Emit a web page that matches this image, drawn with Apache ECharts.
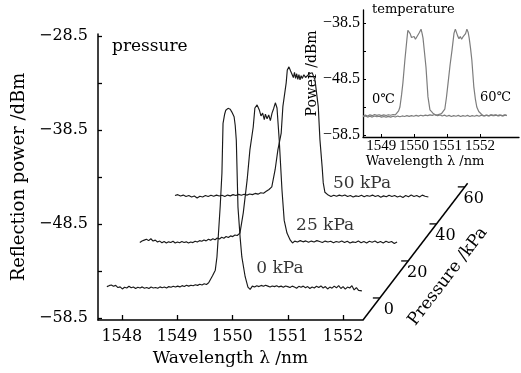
<!DOCTYPE html>
<html>
<head>
<meta charset="utf-8">
<script src="https://cdn.jsdelivr.net/npm/echarts@6/dist/echarts.min.js"></script>
<style>
  html, body { margin: 0; padding: 0; background: #fff; }
  #chart { width: 521px; height: 373px; }
</style>
</head>
<body>
<div id="chart"></div>
<script>
// spectra at each pressure, [wavelength nm, power dBm] before the waterfall shift
const pressures = [0, 25, 50]
const trace0 = [
  [1547.73,-55.15],[1547.77,-55.05],[1547.81,-54.98],[1547.85,-55.12],[1547.89,-55.02],[1547.93,-55.25],[1547.97,-55.18],[1548.01,-55.4],
  [1548.05,-55.22],[1548.09,-55.3],[1548.13,-55.12],[1548.17,-55.28],[1548.21,-55.2],[1548.25,-55.35],[1548.29,-55.22],[1548.33,-55.3],
  [1548.37,-55.18],[1548.41,-55.32],[1548.45,-55.25],[1548.49,-55.36],[1548.53,-55.2],[1548.57,-55.3],[1548.61,-55.24],[1548.65,-55.33],
  [1548.69,-55.18],[1548.73,-55.27],[1548.77,-55.2],[1548.81,-55.3],[1548.85,-55.15],[1548.89,-55.22],[1548.93,-55.12],[1548.97,-55.2],
  [1549.01,-55.1],[1549.05,-55.18],[1549.09,-55.05],[1549.13,-55.14],[1549.17,-55.0],[1549.21,-55.1],[1549.25,-55.0],[1549.29,-55.06],
  [1549.33,-54.95],[1549.37,-55.02],[1549.41,-54.9],[1549.45,-54.98],[1549.49,-54.85],[1549.53,-54.92],[1549.57,-54.75],
  [1549.60,-54.6],[1549.64,-54.0],[1549.69,-53.4],[1549.72,-52.0],[1549.74,-50.2],[1549.78,-46.5],[1549.81,-43.1],[1549.83,-37.8],
  [1549.86,-36.8],[1549.88,-36.4],[1549.92,-36.2],[1549.96,-36.3],[1549.99,-36.6],[1550.03,-37.1],[1550.05,-38.0],[1550.07,-39.6],
  [1550.10,-46.7],[1550.14,-50.0],[1550.17,-52.0],[1550.23,-54.1],[1550.28,-55.2],
  [1550.32,-55.45],[1550.36,-55.1],[1550.40,-55.2],[1550.44,-55.05],[1550.48,-55.15],[1550.52,-55.02],[1550.56,-55.12],[1550.60,-55.0],
  [1550.64,-55.1],[1550.68,-55.2],[1550.72,-55.08],[1550.76,-55.15],[1550.80,-55.05],[1550.84,-55.18],[1550.88,-55.1],[1550.92,-55.22],
  [1550.96,-55.08],[1551.00,-55.15],[1551.04,-55.25],[1551.08,-55.1],[1551.12,-55.2],[1551.16,-55.32],[1551.20,-55.12],[1551.24,-55.22],
  [1551.28,-55.1],[1551.32,-55.28],[1551.36,-55.15],[1551.40,-55.35],[1551.44,-55.2],[1551.48,-55.3],[1551.52,-55.12],[1551.56,-55.25],
  [1551.60,-55.08],[1551.64,-55.3],[1551.68,-55.15],[1551.72,-55.4],[1551.76,-55.2],[1551.80,-55.32],[1551.84,-55.1],[1551.88,-55.28],
  [1551.92,-55.05],[1551.96,-55.35],[1552.00,-55.15],[1552.04,-55.42],[1552.08,-55.2],[1552.12,-55.3],[1552.16,-55.05],[1552.20,-55.5],
  [1552.24,-55.25],[1552.28,-55.55],[1552.31,-55.35],[1552.34,-55.6]
]
const trace25 = [
  [1547.72,-55.25],[1547.76,-55.1],[1547.80,-55.0],[1547.84,-54.9],[1547.88,-55.05],[1547.92,-54.85],[1547.96,-55.1],[1548.00,-55.0],
  [1548.04,-55.2],[1548.08,-55.1],[1548.12,-55.28],[1548.16,-55.15],[1548.20,-55.3],[1548.24,-55.18],[1548.28,-55.25],[1548.32,-55.12],
  [1548.36,-55.3],[1548.40,-55.2],[1548.44,-55.28],[1548.48,-55.15],[1548.52,-55.25],[1548.56,-55.18],[1548.60,-55.3],[1548.64,-55.2],
  [1548.68,-55.26],[1548.72,-55.12],[1548.76,-55.2],[1548.80,-55.05],[1548.84,-55.12],[1548.88,-54.98],[1548.92,-55.08],[1548.96,-54.9],
  [1549.00,-55.0],[1549.04,-54.85],[1549.08,-54.95],[1549.12,-54.78],[1549.16,-54.88],[1549.20,-54.7],[1549.24,-54.8],[1549.28,-54.62],
  [1549.32,-54.72],[1549.36,-54.55],[1549.40,-54.62],[1549.44,-54.45],[1549.48,-54.5],[1549.53,-54.25],
  [1549.59,-52.1],[1549.66,-48.6],[1549.71,-45.4],[1549.77,-42.97],[1549.80,-40.95],[1549.84,-40.63],[1549.88,-41.16],[1549.91,-41.8],
  [1549.94,-41.5],[1549.97,-42.2],[1549.99,-41.6],[1550.02,-42.1],[1550.05,-41.7],[1550.08,-42.3],[1550.11,-41.5],[1550.14,-41.0],
  [1550.17,-40.4],[1550.20,-40.95],[1550.24,-44.35],[1550.29,-49.7],[1550.33,-52.9],[1550.38,-54.25],[1550.44,-55.0],
  [1550.48,-55.3],[1550.52,-55.1],[1550.57,-55.2],[1550.62,-55.05],[1550.67,-55.18],[1550.72,-55.08],[1550.77,-55.22],[1550.82,-55.1],
  [1550.87,-55.2],[1550.92,-55.05],[1550.97,-55.15],[1551.02,-55.25],[1551.07,-55.1],[1551.12,-55.2],[1551.17,-55.12],[1551.22,-55.28],
  [1551.27,-55.15],[1551.32,-55.22],[1551.37,-55.1],[1551.42,-55.25],[1551.47,-55.12],[1551.52,-55.3],[1551.57,-55.18],[1551.62,-55.25],
  [1551.67,-55.1],[1551.72,-55.28],[1551.77,-55.15],[1551.82,-55.3],[1551.87,-55.12],[1551.92,-55.22],[1551.97,-55.1],[1552.02,-55.28],
  [1552.07,-55.15],[1552.12,-55.3],[1552.17,-55.12],[1552.22,-55.25],[1552.27,-55.15],[1552.32,-55.35],[1552.37,-55.2]
]
const trace50 = [
  [1547.75,-55.05],[1547.80,-54.95],[1547.85,-55.1],[1547.90,-55.0],[1547.95,-55.15],[1548.00,-55.05],[1548.05,-55.2],[1548.10,-55.1],
  [1548.15,-55.3],[1548.20,-55.12],[1548.25,-55.2],[1548.30,-55.05],[1548.35,-55.15],[1548.40,-55.02],[1548.45,-55.12],[1548.50,-55.0],
  [1548.55,-55.1],[1548.60,-55.02],[1548.65,-55.15],[1548.70,-55.0],[1548.75,-55.08],[1548.80,-54.95],[1548.85,-55.05],[1548.90,-54.92],
  [1548.95,-55.02],[1549.00,-54.9],[1549.05,-55.0],[1549.10,-54.88],[1549.15,-54.95],[1549.20,-54.82],[1549.25,-54.9],[1549.30,-54.75],
  [1549.35,-54.8],[1549.40,-54.6],[1549.45,-54.4],
  [1549.50,-54.13],[1549.56,-52.3],[1549.61,-50.2],[1549.67,-48.4],[1549.70,-45.6],[1549.76,-43.07],[1549.78,-41.7],[1549.81,-41.37],
  [1549.84,-41.8],[1549.87,-41.9],[1549.89,-42.5],[1549.91,-41.95],[1549.93,-42.6],[1549.95,-42.1],[1549.97,-42.7],[1549.99,-42.2],
  [1550.01,-42.75],[1550.03,-42.3],[1550.05,-42.6],[1550.08,-42.2],[1550.11,-42.5],[1550.14,-42.4],[1550.18,-42.1],[1550.23,-42.0],
  [1550.28,-42.75],[1550.34,-45.6],[1550.37,-49.1],[1550.41,-52.0],[1550.43,-53.7],[1550.46,-54.7],[1550.52,-55.0],
  [1550.57,-55.15],[1550.62,-55.02],[1550.67,-55.12],[1550.72,-55.0],[1550.77,-55.1],[1550.82,-54.98],[1550.87,-55.15],[1550.92,-55.05],
  [1550.97,-55.2],[1551.02,-55.08],[1551.07,-55.15],[1551.12,-55.02],[1551.17,-55.18],[1551.22,-55.05],[1551.27,-55.12],[1551.32,-55.0],
  [1551.37,-55.15],[1551.42,-55.05],[1551.47,-55.22],[1551.52,-55.08],[1551.57,-55.18],[1551.62,-55.02],[1551.67,-55.15],[1551.72,-55.05],
  [1551.77,-55.2],[1551.82,-55.1],[1551.87,-55.25],[1551.92,-55.05],[1551.97,-55.18],[1552.02,-55.0],[1552.07,-55.15],[1552.12,-55.05],
  [1552.17,-55.2],[1552.22,-55.0],[1552.27,-55.12],[1552.33,-55.2]
]
const traces = [trace0, trace25, trace50]

const wlTicks = [1548, 1549, 1550, 1551, 1552]
const powerTicks = [-58.5, -53.5, -48.5, -43.5, -38.5, -33.5, -28.5]
const powerLabels = [-58.5, -48.5, -38.5, -28.5]
const pressureTicks = [0, 20, 40, 60]

// inset: temperature
const inset0C = [
  [1548.45,-55.1],[1548.52,-54.95],[1548.59,-55.1],[1548.66,-54.9],[1548.73,-55.05],[1548.80,-54.85],[1548.87,-55.0],[1548.94,-54.88],
  [1549.01,-55.05],[1549.08,-54.9],[1549.15,-55.02],[1549.22,-54.88],[1549.29,-54.98],[1549.36,-54.85],[1549.43,-54.9],[1549.48,-54.7],
  [1549.53,-54.2],[1549.57,-53.5],[1549.62,-51.3],[1549.66,-49.2],[1549.72,-45.1],[1549.78,-41.5],[1549.81,-39.8],[1549.84,-39.6],
  [1549.88,-40.4],[1549.92,-41.1],[1549.96,-41.3],[1550.0,-40.9],[1550.04,-41.4],[1550.08,-41.0],[1550.12,-41.2],[1550.16,-40.2],
  [1550.21,-39.6],[1550.24,-40.3],[1550.27,-41.2],[1550.31,-43.5],[1550.36,-46.4],[1550.42,-51.7],[1550.48,-54.0],[1550.57,-54.6],
  [1550.64,-54.9],[1550.71,-55.05],[1550.78,-54.9],[1550.85,-55.1],[1550.92,-54.95],[1550.99,-55.15],[1551.06,-55.0],[1551.13,-55.2],
  [1551.20,-55.05],[1551.27,-55.15],[1551.34,-55.0],[1551.41,-55.2],[1551.48,-55.05],[1551.55,-55.15],[1551.62,-55.0],[1551.69,-55.2],
  [1551.76,-55.05],[1551.83,-55.15],[1551.90,-55.0],[1551.97,-55.15],[1552.04,-54.95],[1552.11,-55.1],[1552.18,-54.95],[1552.25,-55.1],
  [1552.32,-54.9],[1552.39,-55.05],[1552.46,-54.9],[1552.53,-55.05],[1552.60,-54.92],[1552.67,-55.08],[1552.74,-54.9],[1552.81,-55.0]
]
const inset60C = [
  [1548.45,-55.25],[1548.52,-55.1],[1548.59,-55.3],[1548.66,-55.15],[1548.73,-55.3],[1548.80,-55.1],[1548.87,-55.25],[1548.94,-55.15],
  [1549.01,-55.3],[1549.08,-55.2],[1549.15,-55.32],[1549.22,-55.18],[1549.29,-55.3],[1549.36,-55.15],[1549.43,-55.28],[1549.50,-55.12],
  [1549.57,-55.25],[1549.64,-55.1],[1549.71,-55.2],[1549.78,-55.05],[1549.85,-55.18],[1549.92,-55.05],[1549.99,-55.15],[1550.06,-55.0],
  [1550.13,-55.12],[1550.20,-54.98],[1550.27,-55.1],[1550.34,-54.95],[1550.41,-55.05],[1550.48,-54.9],[1550.55,-55.0],[1550.62,-54.85],
  [1550.69,-54.95],[1550.76,-54.8],[1550.83,-54.7],[1550.89,-54.4],[1550.93,-53.9],[1550.98,-51.8],[1551.03,-49.2],[1551.09,-46.0],
  [1551.15,-43.3],[1551.21,-40.3],[1551.25,-39.6],[1551.28,-39.7],[1551.32,-40.8],[1551.36,-41.3],[1551.40,-40.9],[1551.44,-41.4],
  [1551.48,-41.0],[1551.52,-41.2],[1551.56,-40.4],[1551.60,-39.6],[1551.64,-40.2],[1551.67,-41.2],[1551.71,-43.0],[1551.75,-45.1],
  [1551.81,-49.9],[1551.86,-52.2],[1551.90,-53.5],[1551.96,-54.3],[1552.0,-54.6],[1552.07,-54.95],[1552.14,-55.1],[1552.21,-54.95],
  [1552.28,-55.1],[1552.35,-54.9],[1552.42,-55.05],[1552.49,-54.95],[1552.56,-55.1],[1552.63,-54.95],[1552.70,-55.1],[1552.77,-54.92],
  [1552.81,-55.05]
]
const insetWlTicks = [1549, 1550, 1551, 1552]
const insetPowerTicks = [-58.5, -53.5, -48.5, -43.5, -38.5]
const insetPowerLabels = [-58.5, -48.5, -38.5]

// axis ranges
const X_MIN = 1547.57, X_MAX = 1552.36
const Y_MIN = -58.7, Y_MAX = -28.3
const MAIN_W = 265, WIDE_W = 421
// waterfall shift per kPa, in axis units
const SHIFT_NM = 0.02423, SHIFT_DB = 0.1915
// oblique pressure axis: per kPa step and where 0 kPa sits on it
const PAX_NM = 0.02559, PAX_DB = 0.1968, PAX_ZERO = 11.9, PAX_END = 62
// where each "x kPa" text goes, before the shift
const labelAt = [[1550.86, -53.2], [1551.07, -53.4], [1551.13, -53.8]]

const serif = '"DejaVu Serif", serif'
const times = '"Liberation Serif", serif'
const plain = v => String(v)
const minus = v => String(v).replace('-', '\u2212')

const chart = echarts.init(document.getElementById('chart'))

// the shifted traces run past the drawn axis, so they live on a wider hidden grid with the same scale
const traceSeries = traces.map((tr, i) => ({
  type: 'line',
  xAxisIndex: 2,
  yAxisIndex: 2,
  data: tr.map(([l, p]) => [l + pressures[i] * SHIFT_NM, p + pressures[i] * SHIFT_DB]),
  symbol: 'none',
  z: 5,
  lineStyle: { color: '#1a1a1a', width: 1.15 },
}))

const insetSeries = [inset0C, inset60C].map(tr => ({
  type: 'line',
  xAxisIndex: 1,
  yAxisIndex: 1,
  data: tr,
  symbol: 'none',
  z: 3,
  lineStyle: { color: '#7d7d7d', width: 1.2 },
}))

chart.setOption({
  animation: false,
  backgroundColor: '#fff',
  grid: [
    { left: 98, top: 34, width: MAIN_W, height: 286, outerBoundsMode: 'none' },
    { left: 363, top: 10, width: 156, height: 127, outerBoundsMode: 'none' },
    { left: 98, top: 34, width: WIDE_W, height: 286, outerBoundsMode: 'none' },
  ],
  xAxis: [
    {
      type: 'value', gridIndex: 0, min: X_MIN, max: X_MAX,
      name: 'Wavelength \u03bb /nm', nameLocation: 'middle', nameGap: 29,
      nameTextStyle: { fontFamily: serif, fontSize: 17, color: '#000' },
      axisLine: { show: true, onZero: false, lineStyle: { color: '#000', width: 1.5 } },
      axisTick: { show: true, inside: true, length: 5, customValues: wlTicks, lineStyle: { color: '#000', width: 1.3 } },
      axisLabel: { customValues: wlTicks, margin: 9, formatter: plain, fontFamily: serif, fontSize: 16, color: '#000' },
      splitLine: { show: false },
    },
    {
      type: 'value', gridIndex: 1, min: 1548.45, max: 1553.18,
      name: 'Wavelength \u03bb /nm', nameLocation: 'middle', nameGap: 15,
      nameTextStyle: { fontFamily: serif, fontSize: 13, color: '#000', padding: [0, 32, 0, 0] },
      axisLine: { show: true, onZero: false, lineStyle: { color: '#000', width: 1.3 } },
      axisTick: { show: true, inside: true, length: 3, customValues: insetWlTicks, lineStyle: { color: '#000' } },
      axisLabel: { customValues: insetWlTicks, margin: 2, formatter: plain, fontFamily: times, fontSize: 15, color: '#000' },
      splitLine: { show: false },
    },
    {
      type: 'value', gridIndex: 2, min: X_MIN, max: X_MIN + (X_MAX - X_MIN) * WIDE_W / MAIN_W, show: false,
    },
  ],
  yAxis: [
    {
      type: 'value', gridIndex: 0, min: Y_MIN, max: Y_MAX,
      name: 'Reflection power /dBm', nameLocation: 'middle', nameGap: 62,
      nameTextStyle: { fontFamily: serif, fontSize: 18, color: '#000' },
      axisLine: { show: true, onZero: false, lineStyle: { color: '#000', width: 1.5 } },
      axisTick: { show: true, inside: true, length: 4, customValues: powerTicks, lineStyle: { color: '#000', width: 1.3 } },
      axisLabel: { customValues: powerLabels, margin: 10, formatter: minus, fontFamily: serif, fontSize: 16, color: '#000' },
      splitLine: { show: false },
    },
    {
      type: 'value', gridIndex: 1, min: -58.86, max: -36.18,
      name: 'Power /dBm', nameLocation: 'middle', nameGap: 43,
      nameTextStyle: { fontFamily: serif, fontSize: 14, color: '#000' },
      axisLine: { show: true, onZero: false, lineStyle: { color: '#000', width: 1.3 } },
      axisTick: { show: true, inside: true, length: 3, customValues: insetPowerTicks, lineStyle: { color: '#000' } },
      axisLabel: { customValues: insetPowerLabels, margin: 3, formatter: minus, fontFamily: times, fontSize: 16, color: '#000' },
      splitLine: { show: false },
    },
    { type: 'value', gridIndex: 2, min: Y_MIN, max: Y_MAX, show: false },
  ],
  graphic: [
    { type: 'text', left: 112, top: 38, style: { text: 'pressure', font: '17px ' + serif, fill: '#000' } },
    { type: 'text', left: 372, top: 3, style: { text: 'temperature', font: '13px ' + serif, fill: '#000' } },
    { type: 'text', left: 372, top: 93, style: { text: '0\u2103', font: '13px ' + serif, fill: '#000' } },
    { type: 'text', left: 480, top: 91, style: { text: '60\u2103', font: '13px ' + serif, fill: '#000' } },
  ],
  series: [
    ...insetSeries,
    ...traceSeries,
    {
      type: 'scatter',
      xAxisIndex: 2,
      yAxisIndex: 2,
      symbolSize: 0,
      z: 6,
      data: pressures.map((p, i) => [labelAt[i][0] + p * SHIFT_NM, labelAt[i][1] + p * SHIFT_DB, p]),
      label: {
        show: true, position: 'inside',
        formatter: d => d.value[2] + ' kPa',
        fontFamily: serif, fontSize: 17, color: '#000',
      },
    },
    {
      // oblique pressure axis, drawn in the same data space as the traces
      type: 'custom',
      xAxisIndex: 2,
      yAxisIndex: 2,
      clip: false,
      silent: true,
      z: 4,
      data: pressureTicks.map(p => [p, p]),
      renderItem: (params, api) => {
        const p = api.value(0)
        const at = k => api.coord([X_MAX + (k + PAX_ZERO) * PAX_NM, Y_MIN + (k + PAX_ZERO) * PAX_DB])
        const t = at(p)
        const kids = [
          { type: 'line', shape: { x1: t[0] - 7, y1: t[1], x2: t[0], y2: t[1] }, style: { stroke: '#000', lineWidth: 1.3 } },
          { type: 'text', x: t[0] + 9, y: t[1] + 12,
            style: { text: String(p), font: '16px ' + serif, fill: '#000', align: 'center', verticalAlign: 'middle' } },
        ]
        if (params.dataIndex === 0) {
          const a = api.coord([X_MAX, Y_MIN])
          const b = at(PAX_END)
          kids.push({ type: 'line', shape: { x1: a[0], y1: a[1], x2: b[0], y2: b[1] }, style: { stroke: '#000', lineWidth: 1.5 } })
          const ang = Math.atan2(a[1] - b[1], b[0] - a[0])
          const m = at(25)
          kids.push({
            type: 'text', x: m[0] + 41 * Math.sin(ang), y: m[1] + 41 * Math.cos(ang), rotation: ang,
            style: { text: 'Pressure /kPa', font: '17px ' + serif, fill: '#000', align: 'center', verticalAlign: 'middle' },
          })
        }
        return { type: 'group', children: kids }
      },
    },
  ],
})
</script>
</body>
</html>
